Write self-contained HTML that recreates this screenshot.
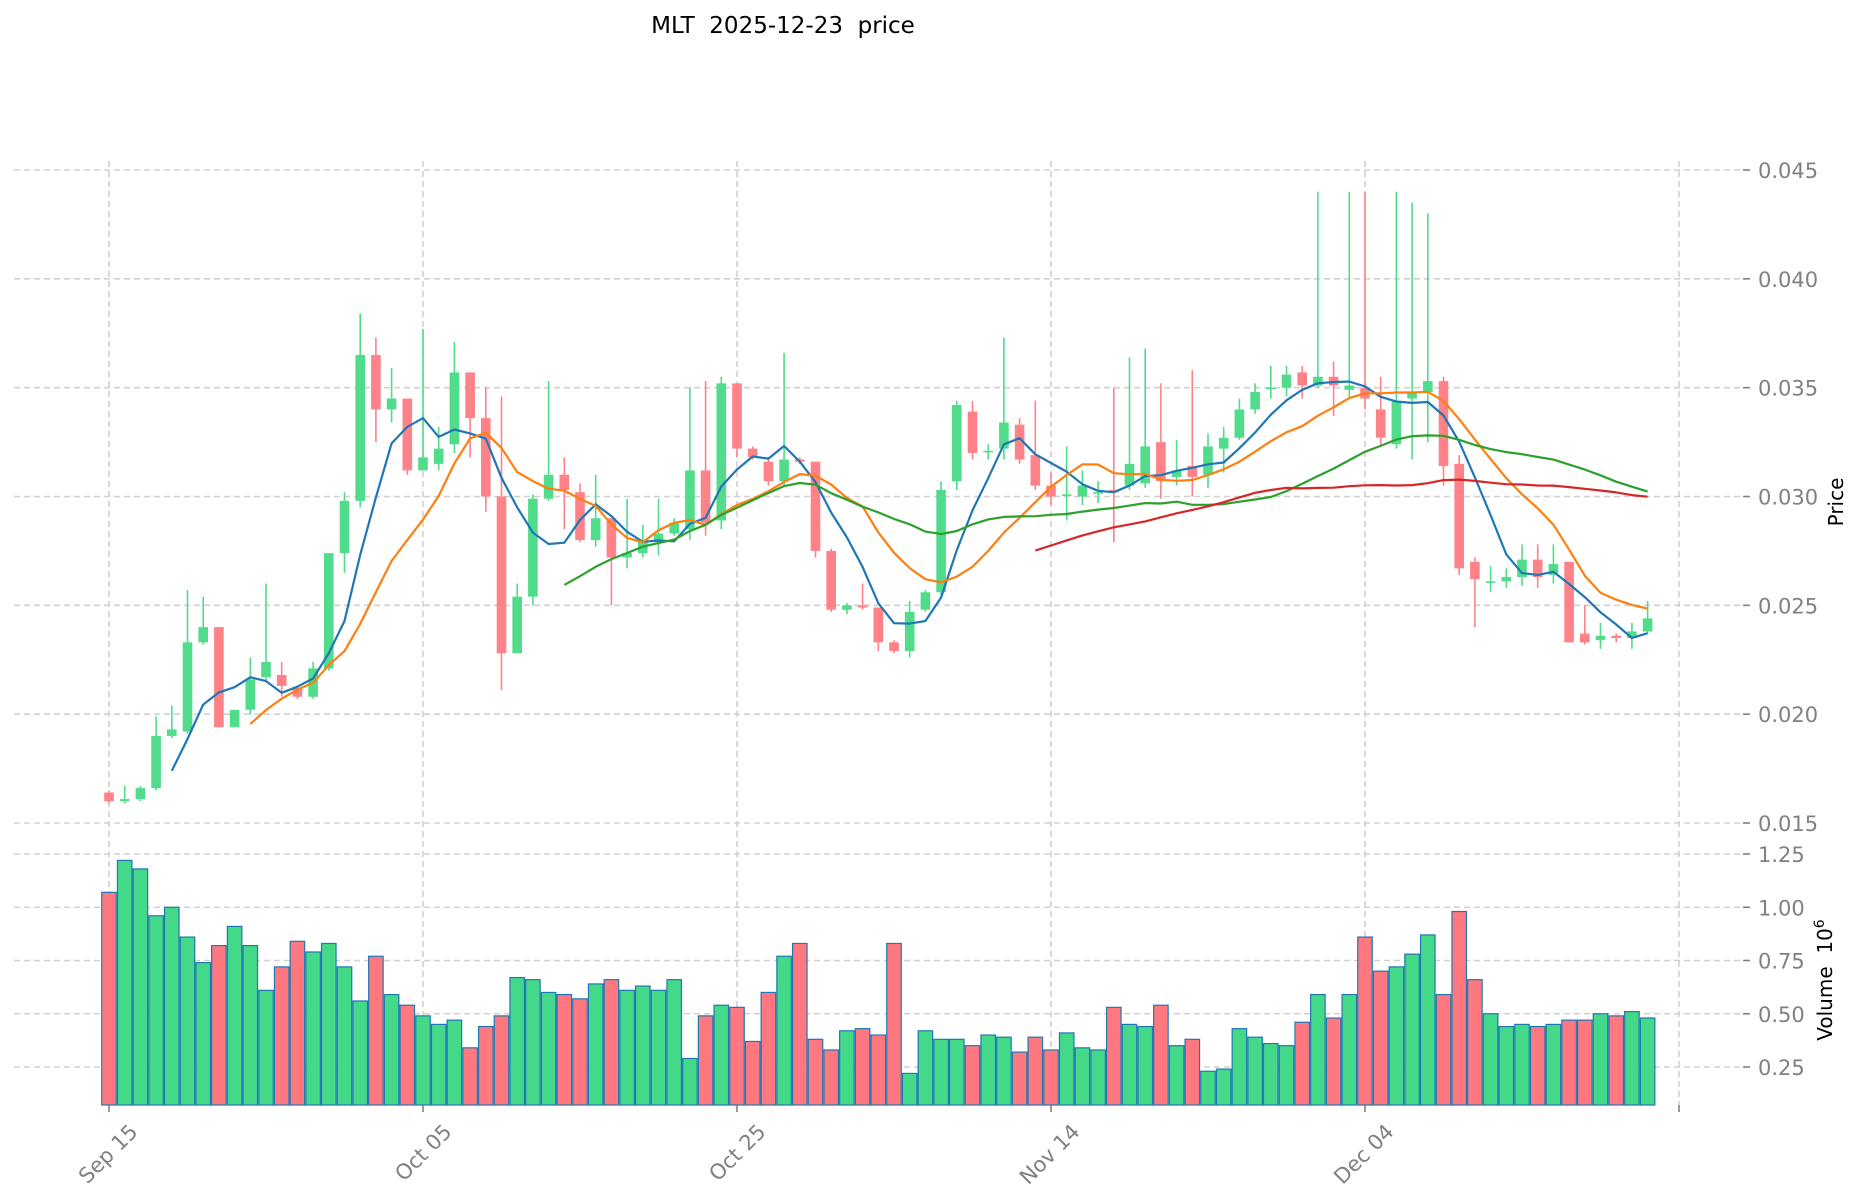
<!DOCTYPE html>
<html><head><meta charset="utf-8"><style>
body{margin:0;background:#fff;}
svg{display:block;font-family:"DejaVu Sans","Liberation Sans",sans-serif;}
</style></head><body>
<svg id="chart" width="1860" height="1202" viewBox="0 0 1860 1202" xmlns="http://www.w3.org/2000/svg">
<text x="783" y="33" font-size="23" text-anchor="middle" fill="#000" style="white-space:pre" xml:space="preserve">MLT  2025-12-23  price</text>
<g id="grid"></g>
<g id="vol"></g>
<g id="candles"></g>
<g id="mas"></g>
<g id="axes"></g>
<text transform="translate(1843,502) rotate(-90)" font-size="20" text-anchor="middle" fill="#000">Price</text>
<text transform="translate(1832,980) rotate(-90)" font-size="20" text-anchor="middle" fill="#000" style="white-space:pre" xml:space="preserve">Volume  10<tspan dy="-8" font-size="14">6</tspan></text>
</svg>
<script>
const opens=[.0164,.0160,.0161,.0166,.0190,.0192,.0233,.0240,.0194,.0202,.0217,.0218,.0212,.0208,.0221,.0274,.0298,.0365,.0340,.0345,.0312,.0315,.0324,.0357,.0336,.0300,.0228,.0254,.0299,.0310,.0302,.0280,.0290,.0272,.0274,.0279,.0283,.0285,.0312,.0289,.0352,.0322,.0316,.0307,.0317,.0316,.0275,.0248,.0250,.0249,.0233,.0229,.0248,.0256,.0307,.0339,.0321,.0322,.0333,.0319,.0305,.0301,.0300,.0302,.0303,.0305,.0306,.0325,.0309,.0314,.0310,.0322,.0327,.0340,.0350,.0350,.0357,.0351,.0355,.0349,.0350,.0340,.0324,.0345,.0348,.0353,.0315,.0270,.0261,.0261,.0263,.0271,.0264,.0270,.0237,.0234,.0236,.0235,.0238];
const highs=[.0165,.0167,.0167,.0199,.0204,.0257,.0254,.0240,.0202,.0226,.0260,.0224,.0213,.0224,.0274,.0302,.0384,.0373,.0359,.0345,.0377,.0332,.0371,.0357,.0350,.0346,.0260,.0301,.0353,.0318,.0306,.0310,.0290,.0299,.0287,.0299,.0290,.0350,.0353,.0355,.0352,.0323,.0318,.0366,.0318,.0316,.0276,.0251,.0260,.0249,.0234,.0252,.0257,.0307,.0344,.0344,.0324,.0373,.0336,.0344,.0311,.0323,.0312,.0307,.0350,.0364,.0368,.0352,.0326,.0358,.0329,.0332,.0345,.0352,.0360,.0360,.0360,.0440,.0362,.0440,.0440,.0355,.0440,.0435,.0430,.0355,.0319,.0272,.0268,.0267,.0278,.0278,.0278,.0270,.0250,.0242,.0237,.0242,.0252];
const lows=[.0159,.0159,.0160,.0165,.0189,.0191,.0232,.0194,.0194,.0200,.0215,.0208,.0207,.0207,.0220,.0265,.0295,.0325,.0334,.0310,.0312,.0312,.0320,.0318,.0293,.0211,.0228,.0250,.0298,.0285,.0279,.0277,.0250,.0267,.0272,.0273,.0282,.0280,.0282,.0285,.0318,.0317,.0305,.0305,.0315,.0272,.0247,.0246,.0248,.0229,.0228,.0226,.0247,.0254,.0303,.0317,.0317,.0317,.0315,.0303,.0296,.0289,.0296,.0297,.0279,.0303,.0304,.0299,.0305,.0300,.0304,.0311,.0326,.0338,.0345,.0346,.0345,.0350,.0337,.0345,.0340,.0323,.0322,.0317,.0325,.0305,.0264,.0240,.0256,.0258,.0259,.0258,.0260,.0233,.0232,.0230,.0233,.0230,.0237];
const closes=[.0160,.0161,.0166,.0190,.0193,.0233,.0240,.0194,.0202,.0216,.0224,.0213,.0208,.0221,.0274,.0298,.0365,.0340,.0345,.0312,.0318,.0322,.0357,.0336,.0300,.0228,.0254,.0299,.0310,.0303,.0280,.0290,.0272,.0274,.0280,.0283,.0288,.0312,.0288,.0352,.0322,.0318,.0307,.0317,.0316,.0275,.0248,.0250,.0249,.0233,.0229,.0247,.0256,.0303,.0342,.0320,.0321,.0334,.0317,.0305,.0300,.0301,.0305,.0302,.0302,.0315,.0323,.0307,.0312,.0309,.0323,.0327,.0340,.0348,.0350,.0356,.0351,.0355,.0351,.0351,.0345,.0327,.0344,.0348,.0353,.0314,.0267,.0262,.0261,.0263,.0271,.0263,.0269,.0233,.0233,.0236,.0235,.0238,.0244];
const volumes=[1.07,1.22,1.18,.96,1.00,.86,.74,.82,.91,.82,.61,.72,.84,.79,.83,.72,.56,.77,.59,.54,.49,.45,.47,.34,.44,.49,.67,.66,.60,.59,.57,.64,.66,.61,.63,.61,.66,.29,.49,.54,.53,.37,.60,.77,.83,.38,.33,.42,.43,.40,.83,.22,.42,.38,.38,.35,.40,.39,.32,.39,.33,.41,.34,.33,.53,.45,.44,.54,.35,.38,.23,.24,.43,.39,.36,.35,.46,.59,.48,.59,.86,.70,.72,.78,.87,.59,.98,.66,.50,.44,.45,.44,.45,.47,.47,.50,.49,.51,.48];
const maPeriods=[5,10,30,60];
const maColors=['#1f77b4','#ff7f0e','#2ca02c','#d62728'];
const priceTicks=[0.015,0.020,0.025,0.030,0.035,0.040,0.045];
const volTicks=[0.25,0.50,0.75,1.00,1.25];
const xTickIdx=[0,20,40,60,80];
const xTickLabels=['Sep 15','Oct 05','Oct 25','Nov 14','Dec 04'];

const NS='http://www.w3.org/2000/svg';
const X0=109, DX=15.70;
const xs=i=>X0+i*DX;
const yp=p=>170+(0.045-p)*21767;
const yv=v=>854+(1.25-v)*213;
const VB=1105;
const GREEN='#50dc8a', RED='#ff8288';
function mk(tag,attrs,parent){const e=document.createElementNS(NS,tag);for(const k in attrs)e.setAttribute(k,attrs[k]);parent.appendChild(e);return e;}
const grid=document.getElementById('grid'),axes=document.getElementById('axes');
priceTicks.forEach(t=>{
  const l=mk('line',{x1:14,x2:1743,y1:yp(t),y2:yp(t),stroke:'#d0d0d0','stroke-width':1.6,'stroke-dasharray':'6,4'},grid);
  
  
  mk('line',{x1:1743,x2:1750,y1:yp(t),y2:yp(t),stroke:'#808080','stroke-width':1.6},axes);
  const tx=mk('text',{x:1758,y:yp(t)+8,'font-size':21,fill:'#808080'},axes);
  tx.textContent=t.toFixed(3);
  
  
});
volTicks.forEach(t=>{
  const l=mk('line',{x1:14,x2:1743,y1:yv(t),y2:yv(t),stroke:'#d0d0d0','stroke-width':1.6,'stroke-dasharray':'6,4'},grid);
  
  
  mk('line',{x1:1743,x2:1750,y1:yv(t),y2:yv(t),stroke:'#808080','stroke-width':1.6},axes);
  const tx=mk('text',{x:1758,y:yv(t)+8,'font-size':21,fill:'#808080'},axes);
  tx.textContent=t.toFixed(2);
  
  
});
xTickIdx.concat([100]).forEach((ix,k)=>{
  const x=xs(ix);
  const l=mk('line',{x1:x,x2:x,y1:161,y2:VB,stroke:'#d0d0d0','stroke-width':1.6,'stroke-dasharray':'6,4'},grid);
  
  
  mk('line',{x1:x,x2:x,y1:VB,y2:VB+7,stroke:'#808080','stroke-width':1.6},axes);
  if(k<xTickLabels.length){
    const ax=x+30, ay=VB+28;
    const tx=mk('text',{x:ax,y:ay,'font-size':21,fill:'#808080','text-anchor':'end',transform:`rotate(-45 ${ax} ${ay})`},axes);
    tx.textContent=xTickLabels[k];
    
    
  }
});
const vol=document.getElementById('vol');
volumes.forEach((v,i)=>{
  const up=closes[i]>=opens[i];
  const y=Math.max(yv(v),854-5);
  const r=mk('rect',{x:xs(i)-DX/2+0.6,y:y,width:DX-1.2,height:VB-y,fill:up?'#44d989':'#ff7880',stroke:'#1f77b4','stroke-width':1.2},vol);
  
  
});
const cg=document.getElementById('candles');
opens.forEach((o,i)=>{
  const c=closes[i],up=c>=o,col=up?GREEN:RED,x=xs(i);
  const w=mk('line',{x1:x,x2:x,y1:yp(highs[i]),y2:yp(lows[i]),stroke:col,'stroke-width':1.6},cg);
  
  
  const top=yp(Math.max(o,c)),bot=yp(Math.min(o,c));
  const b=mk('rect',{x:x-4.8,y:top,width:9.6,height:Math.max(bot-top,1.6),fill:col},cg);
  
  
});
const mg=document.getElementById('mas');
maPeriods.forEach((n,k)=>{
  const pts=[];
  for(let i=n-1;i<closes.length;i++){let s=0;for(let j=i-n+1;j<=i;j++)s+=closes[j];pts.push(xs(i).toFixed(1)+','+yp(s/n).toFixed(1));}
  const p=mk('polyline',{points:pts.join(' '),fill:'none',stroke:maColors[k],'stroke-width':2.2,'stroke-linejoin':'round'},mg);
  
  
});
</script>
</body></html>
